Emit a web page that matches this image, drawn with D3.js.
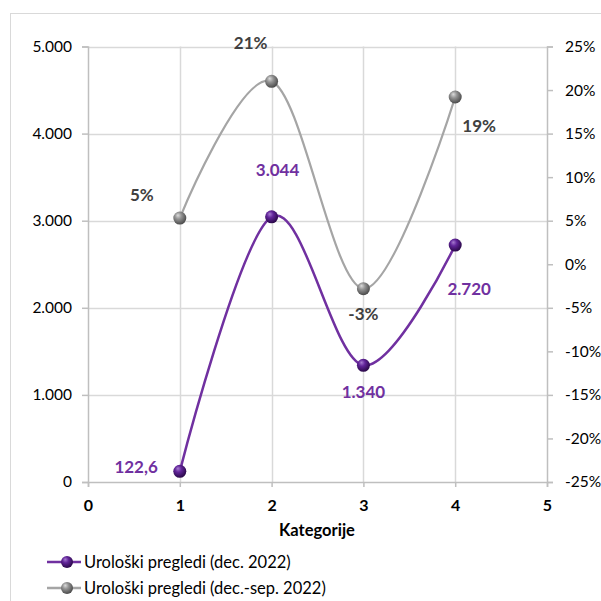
<!DOCTYPE html>
<html>
<head>
<meta charset="utf-8">
<script src="https://cdn.jsdelivr.net/npm/d3@7"></script>
<style>
  html, body { margin: 0; padding: 0; background: #fff; }
  svg { display: block; font-family: Lato, "Open Sans", sans-serif; }
</style>
</head>
<body>
<svg id="chart" width="601" height="601"></svg>
<script>
// ---- data ----
const categories = [1, 2, 3, 4];
const visits = [122.6, 3044, 1340, 2720];          // Urološki pregledi (dec. 2022)
const change = [0.053, 0.21, -0.028, 0.192];        // Urološki pregledi (dec.-sep. 2022)
const xTicks = [0, 1, 2, 3, 4, 5];
const leftTicks = [0, 1000, 2000, 3000, 4000, 5000];
const rightTicks = [-0.25, -0.20, -0.15, -0.10, -0.05, 0, 0.05, 0.10, 0.15, 0.20, 0.25];
const seriesNames = ["Urološki pregledi (dec. 2022)", "Urološki pregledi (dec.-sep. 2022)"];
const xTitle = "Kategorije";

// ---- label placement (offset from the point, px) ----
const visitLabelOffset = [[-22, -5, "end"], [6, -47, "middle"], [0, 26, "middle"], [14, 43, "middle"]];
const changeLabelOffset = [[-38, -24, "middle"], [-21, -39, "middle"], [0, 25, "middle"], [24, 28, "middle"]];

const purple = "#7030A0";
const grey = "#A5A5A5";

const hr = d3.formatLocale({ decimal: ",", thousands: ".", grouping: [3], currency: ["", ""], minus: "-" });
const fmtThousands = hr.format(",");
const fmtValue = hr.format(",.4~g");
const fmtPct = hr.format(".0%");

const svg = d3.select("#chart");
svg.append("rect").attr("width", 601).attr("height", 601).attr("fill", "#fff");
// chart frame
svg.append("rect").attr("x", 10.5).attr("y", 13.5).attr("width", 620).attr("height", 620)
  .attr("fill", "none").attr("stroke", "#D9D9D9").attr("stroke-width", 1);

const plotL = 88, plotR = 547, plotT = 46.5, plotB = 482;
const x = d3.scaleLinear().domain([0, 5]).range([plotL, plotR]);
const yL = d3.scaleLinear().domain([0, 5000]).range([plotB, plotT]);
const yR = d3.scaleLinear().domain([-0.25, 0.25]).range([plotB, plotT]);

// gradients for sphere markers
const defs = svg.append("defs");
function sphere(id, light, mid, dark) {
  const g = defs.append("radialGradient").attr("id", id)
    .attr("cx", "42%").attr("cy", "38%").attr("r", "62%").attr("fx", "35%").attr("fy", "28%");
  g.append("stop").attr("offset", "0%").attr("stop-color", light);
  g.append("stop").attr("offset", "40%").attr("stop-color", mid);
  g.append("stop").attr("offset", "100%").attr("stop-color", dark);
}
sphere("sphPurple", "#A77CD0", "#62259A", "#2A0848");
sphere("sphGrey", "#DCDCDC", "#959595", "#4A4A4A");

// gridlines
const grid = svg.append("g");
grid.selectAll(".hg").data(leftTicks.filter(d => d > 0)).join("line")
  .attr("x1", plotL).attr("x2", plotR)
  .attr("y1", d => Math.round(yL(d)) + 0.5).attr("y2", d => Math.round(yL(d)) + 0.5)
  .attr("stroke", "#D9D9D9").attr("stroke-width", 1.5);
grid.selectAll(".vg").data(xTicks.filter(d => d > 0 && d < 5)).join("line")
  .attr("x1", d => Math.round(x(d)) + 0.5).attr("x2", d => Math.round(x(d)) + 0.5)
  .attr("y1", plotT).attr("y2", plotB)
  .attr("stroke", "#D9D9D9").attr("stroke-width", 1.5);

// axes
function styleAxis(g) {
  g.selectAll("path, line").attr("stroke", "#BFBFBF").attr("stroke-width", 1.5);
  g.selectAll("text").attr("fill", "#000").attr("font-size", 15.5).attr("font-family", "Lato, sans-serif");
}
svg.append("g").attr("transform", `translate(${plotL},0)`)
  .call(d3.axisLeft(yL).tickValues(leftTicks).tickFormat(fmtThousands).tickSizeOuter(0).tickSize(6).tickPadding(10))
  .call(styleAxis);
svg.append("g").attr("transform", `translate(${plotR},0)`)
  .call(d3.axisRight(yR).tickValues(rightTicks).tickFormat(fmtPct).tickSizeOuter(0).tickSize(6).tickPadding(12))
  .call(styleAxis);
const xa = svg.append("g").attr("transform", `translate(0,${plotB})`)
  .call(d3.axisBottom(x).tickValues(xTicks).tickFormat(d3.format("d")).tickSizeOuter(0).tickSize(5).tickPadding(13))
  .call(styleAxis);
xa.selectAll("text").attr("font-weight", "bold").attr("font-size", 16);

svg.append("text").attr("x", 317).attr("y", 536)
  .attr("text-anchor", "middle").attr("font-size", 16.5).attr("font-weight", "bold").text(xTitle);

// smoothed lines
const curve = d3.curveCardinal.tension(0);
const lineL = d3.line().x((d, i) => x(categories[i])).y(d => yL(d)).curve(curve);
const lineR = d3.line().x((d, i) => x(categories[i])).y(d => yR(d)).curve(curve);

svg.append("path").datum(change).attr("d", lineR)
  .attr("fill", "none").attr("stroke", grey).attr("stroke-width", 2.25);
svg.append("path").datum(visits).attr("d", lineL)
  .attr("fill", "none").attr("stroke", purple).attr("stroke-width", 2.5);

// markers
svg.append("g").selectAll("circle").data(change).join("circle")
  .attr("cx", (d, i) => x(categories[i])).attr("cy", d => yR(d)).attr("r", 6.5)
  .attr("fill", "url(#sphGrey)");
svg.append("g").selectAll("circle").data(visits).join("circle")
  .attr("cx", (d, i) => x(categories[i])).attr("cy", d => yL(d)).attr("r", 6.5)
  .attr("fill", "url(#sphPurple)");

// data labels
svg.append("g").selectAll("text").data(change).join("text")
  .attr("x", (d, i) => x(categories[i]) + changeLabelOffset[i][0])
  .attr("y", (d, i) => yR(d) + changeLabelOffset[i][1])
  .attr("text-anchor", (d, i) => changeLabelOffset[i][2])
  .attr("dominant-baseline", "central")
  .attr("font-size", 17).attr("font-weight", "bold").attr("fill", "#404040")
  .text(d => fmtPct(d));
svg.append("g").selectAll("text").data(visits).join("text")
  .attr("x", (d, i) => x(categories[i]) + visitLabelOffset[i][0])
  .attr("y", (d, i) => yL(d) + visitLabelOffset[i][1])
  .attr("text-anchor", (d, i) => visitLabelOffset[i][2])
  .attr("dominant-baseline", "central")
  .attr("font-size", 17).attr("font-weight", "bold").attr("fill", purple)
  .text(d => fmtValue(d));

// legend
const legend = svg.append("g");
const legendItems = [
  { name: seriesNames[0], color: purple, fill: "url(#sphPurple)", y: 562 },
  { name: seriesNames[1], color: grey, fill: "url(#sphGrey)", y: 588 }
];
legendItems.forEach(it => {
  legend.append("line").attr("x1", 47).attr("x2", 81).attr("y1", it.y).attr("y2", it.y)
    .attr("stroke", it.color).attr("stroke-width", 2.5);
  legend.append("circle").attr("cx", 67).attr("cy", it.y).attr("r", 6).attr("fill", it.fill);
  legend.append("text").attr("x", 84).attr("y", it.y).attr("dominant-baseline", "central")
    .attr("font-size", 16.5).attr("fill", "#000").text(it.name);
});
</script>
</body>
</html>
